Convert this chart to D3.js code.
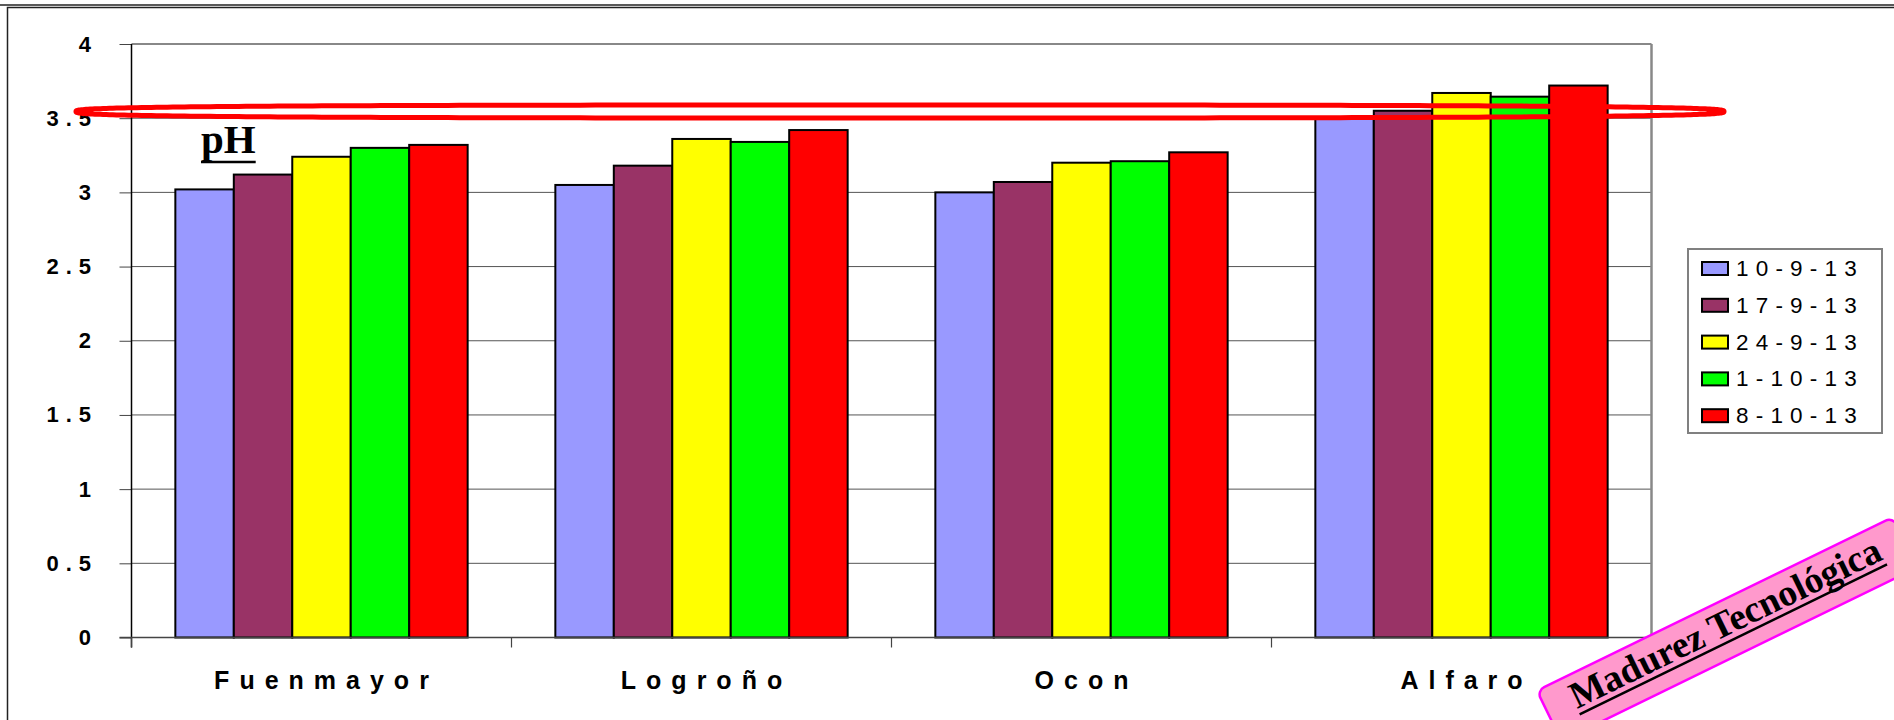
<!DOCTYPE html>
<html><head><meta charset="utf-8">
<script src="https://cdn.jsdelivr.net/npm/d3@7"></script>
<style>html,body{margin:0;padding:0;background:#fff;overflow:hidden}</style>
</head><body>
<svg id="c" width="1894" height="720"></svg>
<script>
// ---- data ----
const categories = ["Fuenmayor", "Logroño", "Ocon", "Alfaro"];
const seriesNames = ["10-9-13", "17-9-13", "24-9-13", "1-10-13", "8-10-13"];
const v_10_9_13 = [3.02, 3.05, 3.00, 3.50];
const v_17_9_13 = [3.12, 3.18, 3.07, 3.55];
const v_24_9_13 = [3.24, 3.36, 3.20, 3.67];
const v_1_10_13 = [3.30, 3.34, 3.21, 3.645];
const v_8_10_13 = [3.32, 3.42, 3.27, 3.72];
const yTicks = [0, 0.5, 1, 1.5, 2, 2.5, 3, 3.5, 4];
const seriesColors = ["#9999FF", "#993366", "#FFFF00", "#00FF00", "#FF0000"];
const chartTitle = "pH";
const stampText = "Madurez Tecnológica";

const seriesValues = [v_10_9_13, v_17_9_13, v_24_9_13, v_1_10_13, v_8_10_13];

// ---- layout ----
const W = 1894, H = 720;
const plot = {l: 131.5, r: 1651.5, t: 44, b: 637.5};
const sans = "'Liberation Sans', Arial, sans-serif";
const serif = "'Liberation Serif', 'Times New Roman', serif";
const svg = d3.select("#c");

// outer frame
svg.append("line").attr("x1", 0).attr("x2", W).attr("y1", 5).attr("y2", 5)
  .attr("stroke", "#222").attr("stroke-width", 1.5);
svg.append("rect").attr("x", 7.5).attr("y", 7.5).attr("width", W + 20).attr("height", H + 20)
  .attr("fill", "none").attr("stroke", "#222").attr("stroke-width", 1.5);

const x0 = d3.scaleBand().domain(categories).range([plot.l, plot.r]).padding(0);
const x1 = d3.scaleBand().domain(seriesNames).range([0, x0.bandwidth()])
  .paddingInner(0).paddingOuter(0.75);
const y = d3.scaleLinear().domain([0, 4]).range([plot.b, plot.t]);

// gridlines
svg.append("g").selectAll("line").data(yTicks.filter(d => d > 0 && d < 4)).join("line")
  .attr("x1", plot.l).attr("x2", plot.r)
  .attr("y1", d => y(d)).attr("y2", d => y(d))
  .attr("stroke", "#555").attr("stroke-width", 1);

// plot border (top, right)
svg.append("line").attr("x1", plot.l).attr("x2", plot.r).attr("y1", plot.t).attr("y2", plot.t)
  .attr("stroke", "#888").attr("stroke-width", 2);
svg.append("line").attr("x1", plot.r).attr("x2", plot.r).attr("y1", plot.t).attr("y2", plot.b)
  .attr("stroke", "#888").attr("stroke-width", 2.5);

// bars
const gCat = svg.append("g").selectAll("g").data(categories).join("g")
  .attr("transform", d => `translate(${x0(d)},0)`);
gCat.selectAll("rect").data((c, ci) => seriesNames.map((s, si) => ({s, si, v: seriesValues[si][ci]})))
  .join("rect")
  .attr("x", d => x1(d.s)).attr("width", x1.bandwidth())
  .attr("y", d => y(d.v)).attr("height", d => plot.b - y(d.v))
  .attr("fill", d => seriesColors[d.si])
  .attr("stroke", "#000").attr("stroke-width", 2);

// y axis
const lsY = 7;
const yAxis = svg.append("g").attr("transform", `translate(${plot.l},0)`)
  .call(d3.axisLeft(y).tickValues(yTicks).tickSize(12).tickPadding(28.5).tickFormat(d3.format("")));
yAxis.select(".domain").remove();
yAxis.selectAll(".tick line").attr("stroke", "#444").attr("stroke-width", 1);
yAxis.selectAll(".tick text").attr("font-family", sans).attr("font-weight", "bold")
  .attr("font-size", 22).attr("fill", "#000").style("letter-spacing", lsY + "px").attr("dx", lsY);
svg.append("line").attr("x1", plot.l).attr("x2", plot.l).attr("y1", plot.t).attr("y2", plot.b + 10)
  .attr("stroke", "#000").attr("stroke-width", 1.5);

// x axis
svg.append("line").attr("x1", plot.l - 12).attr("x2", plot.r).attr("y1", plot.b).attr("y2", plot.b)
  .attr("stroke", "#444").attr("stroke-width", 1.5);
const xTickPos = categories.map(c => x0(c)).concat([plot.r]);
svg.append("g").selectAll("line").data(xTickPos).join("line")
  .attr("x1", d => d).attr("x2", d => d).attr("y1", plot.b).attr("y2", plot.b + 10)
  .attr("stroke", "#444").attr("stroke-width", 1.2);
const lsX = 10;
svg.append("g").selectAll("text").data(categories).join("text")
  .attr("x", d => x0(d) + x0.bandwidth() / 2 + lsX / 2).attr("y", 689)
  .attr("text-anchor", "middle").attr("font-family", sans).attr("font-weight", "bold")
  .attr("font-size", 25).style("letter-spacing", lsX + "px").text(d => d);

// legend
const lg = svg.append("g");
lg.append("rect").attr("x", 1688).attr("y", 249).attr("width", 194).attr("height", 184)
  .attr("fill", "#fff").attr("stroke", "#808080").attr("stroke-width", 2);
const li = lg.selectAll("g.item").data(seriesNames).join("g")
  .attr("transform", (d, i) => `translate(0,${i * 36.8})`);
li.append("rect").attr("x", 1702).attr("y", 262).attr("width", 26).attr("height", 13)
  .attr("fill", (d, i) => seriesColors[i]).attr("stroke", "#000").attr("stroke-width", 2);
li.append("text").attr("x", 1736).attr("y", 276).attr("font-family", sans).attr("font-size", 22.5)
  .style("letter-spacing", "7.2px").text(d => d);

// title pH
const t = svg.append("text").attr("x", 201).attr("y", 153).attr("font-family", serif)
  .attr("font-weight", "bold").attr("font-size", 41).text(chartTitle);
const tl = t.node().getComputedTextLength();
svg.append("line").attr("x1", 201).attr("x2", 201 + tl).attr("y1", 162).attr("y2", 162)
  .attr("stroke", "#000").attr("stroke-width", 2.5);

// red highlight ellipse (superellipse-ish)
const cx = 900, cy = 111.5, rx = 824, ry = 6.5, ex = 2 / 3;
const pts = d3.range(0, 361).map(a => {
  const th = a * Math.PI / 180, c = Math.cos(th), s = Math.sin(th);
  return [cx + rx * Math.sign(c) * Math.pow(Math.abs(c), ex), cy + ry * Math.sign(s) * Math.pow(Math.abs(s), ex)];
});
svg.append("path").attr("d", d3.line()(pts) + "Z").attr("fill", "none")
  .attr("stroke", "#FF0000").attr("stroke-width", 5).attr("stroke-linejoin", "round");

// stamp
const st = svg.append("g").attr("transform", "translate(1577,709) rotate(-26)");
st.append("rect").attr("x", -28).attr("y", -34).attr("width", 396).attr("height", 56).attr("rx", 8)
  .attr("fill", "#FF99CC").attr("stroke", "#FF00FF").attr("stroke-width", 2.5);
const stt = st.append("text").attr("x", 0).attr("y", 0).attr("font-family", serif)
  .attr("font-weight", "bold").attr("font-size", 37.5).attr("fill", "#000").text(stampText);
const sl = stt.node().getComputedTextLength();
st.append("line").attr("x1", 0).attr("x2", sl).attr("y1", 6).attr("y2", 6)
  .attr("stroke", "#000").attr("stroke-width", 2.5);
</script>
</body></html>
